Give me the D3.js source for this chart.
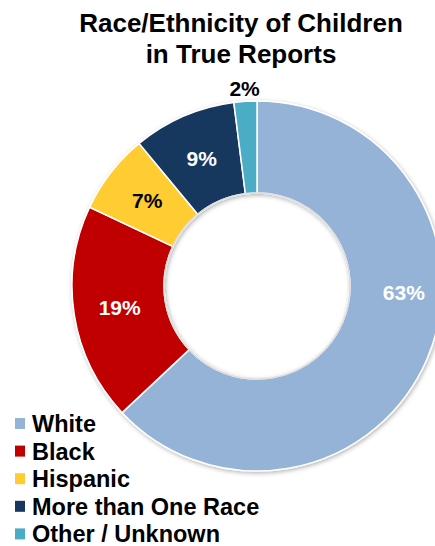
<!DOCTYPE html>
<head>
<meta charset="utf-8">
<title>Race/Ethnicity of Children in True Reports</title>
<script src="https://d3js.org/d3.v7.min.js"></script>
<style>
body { margin: 0; background: #fff; }
svg { display: block; font-family: "Liberation Sans", Arial, sans-serif; font-weight: bold; }
</style>
</head>
<body>
<div id="chart"></div>
<script>
//*******************
// data
//*******************
const categories = ["White", "Black", "Hispanic", "More than One Race", "Other / Unknown"];
const values = [63, 19, 7, 9, 2];
const colors = ["#95b3d7", "#c00000", "#ffcc33", "#17375e", "#4bacc6"];
const labelColors = ["#fff", "#fff", "#000", "#fff", "#000"];
const titleLines = ["Race/Ethnicity of Children", "in True Reports"];

//*******************
// setup svg
//*******************
const width = 435;
const height = 546;
const cx = 257, cy = 286;
const outerR = 185, innerR = 93;

const svg = d3.select("#chart").append("svg")
    .attr("width", width)
    .attr("height", height);

const defs = svg.append("defs");
const shadow = defs.append("filter")
    .attr("id", "shadow")
    .attr("x", "-20%").attr("y", "-20%")
    .attr("width", "140%").attr("height", "140%");
shadow.append("feDropShadow")
    .attr("dx", 1).attr("dy", 1.5)
    .attr("stdDeviation", 2)
    .attr("flood-color", "#000")
    .attr("flood-opacity", 0.3);

//*******************
// title
//*******************
svg.append("text")
    .attr("x", 241)
    .attr("y", 32)
    .attr("text-anchor", "middle")
    .style("font-size", "26px")
    .selectAll("tspan")
    .data(titleLines)
    .enter()
    .append("tspan")
    .attr("x", 241)
    .attr("dy", (d, i) => i === 0 ? 0 : 31)
    .text(d => d);

//*******************
// donut
//*******************
const pie = d3.pie().sort(null).value(d => d);
const arcs = pie(values);

const arc = d3.arc().innerRadius(innerR).outerRadius(outerR);

const g = svg.append("g")
    .attr("transform", "translate(" + cx + "," + cy + ")");

g.append("g")
    .attr("filter", "url(#shadow)")
    .selectAll("path")
    .data(arcs)
    .enter()
    .append("path")
    .attr("d", arc)
    .attr("fill", (d, i) => colors[i])
    .attr("stroke", "#fff")
    .attr("stroke-width", 1.5);

// soft edge of the hole
g.append("circle")
    .attr("r", innerR)
    .attr("fill", "none")
    .attr("stroke", "#ddd")
    .attr("stroke-width", 1.5);

//*******************
// data labels
//*******************
const outArc = d3.arc().innerRadius(198).outerRadius(198);

g.selectAll("text.lbl")
    .data(arcs)
    .enter()
    .append("text")
    .attr("class", "lbl")
    .attr("text-anchor", "middle")
    .attr("dy", "0.36em")
    .style("font-size", "21px")
    .attr("fill", (d, i) => labelColors[i])
    .attr("transform", function(d, i) {
        let p;
        if (i === 0) {
            // label sits on the right side of the big slice
            const a = Math.PI / 2 + 0.045;
            p = [Math.sin(a) * 147, -Math.cos(a) * 147];
        } else if (d.data < 5) {
            p = outArc.centroid(d);
        } else {
            p = arc.centroid(d);
        }
        return "translate(" + p[0] + "," + p[1] + ")";
    })
    .text(d => d.data + "%");

//*******************
// legend
//*******************
const legend = svg.append("g")
    .attr("transform", "translate(15,418)");

const rows = legend.selectAll("g")
    .data(categories)
    .enter()
    .append("g")
    .attr("transform", (d, i) => "translate(0," + (i * 27.6) + ")");

rows.append("rect")
    .attr("width", 10)
    .attr("height", 11)
    .attr("fill", (d, i) => colors[i]);

rows.append("text")
    .attr("x", 17)
    .attr("y", 14)
    .style("font-size", "23.5px")
    .attr("fill", "#000")
    .text(d => d);
</script>
</body>
